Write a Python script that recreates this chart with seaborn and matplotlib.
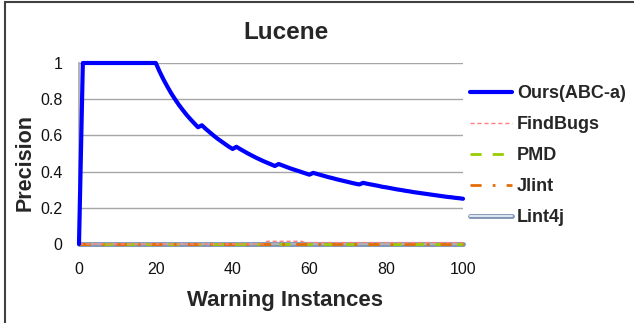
import numpy as np
import pandas as pd
import matplotlib
matplotlib.use("Agg")
import matplotlib.pyplot as plt
import matplotlib.patheffects as pe
from matplotlib.patches import Rectangle
import seaborn as sns

# ---- data ----
title = "Lucene"
x_label = "Warning Instances"
y_label = "Precision"
x_ticks = [0, 20, 40, 60, 80, 100]
y_ticks = [0, 0.2, 0.4, 0.6, 0.8, 1.0]
y_tick_labels = ["0", "0.2", "0.4", "0.6", "0.8", "1"]

instances = list(range(0, 101))
ours = [0.0] + [1.0] * 20 + [
    0.952, 0.909, 0.870, 0.833, 0.800, 0.769, 0.741, 0.714, 0.690, 0.667, 0.645,
    0.656, 0.636, 0.618, 0.600, 0.583, 0.568, 0.553, 0.538, 0.525,
    0.537, 0.524, 0.512, 0.500, 0.489, 0.478, 0.468, 0.458, 0.449, 0.440, 0.431,
    0.442, 0.434, 0.426, 0.418, 0.411, 0.404, 0.397, 0.390, 0.383,
    0.393, 0.387, 0.381, 0.375, 0.369, 0.364, 0.358, 0.353, 0.348, 0.343, 0.338, 0.333, 0.329,
    0.338, 0.333, 0.329, 0.325, 0.321, 0.316, 0.313, 0.309, 0.305, 0.301, 0.298, 0.294,
    0.291, 0.287, 0.284, 0.281, 0.278, 0.275, 0.272, 0.269, 0.266, 0.263, 0.260, 0.258,
    0.255, 0.253, 0.250]
findbugs = [0.0] * 49 + [0.015] * 10 + [0.008] * 42
pmd = [0.0] * 101
jlint = [0.0] * 101
lint4j = [0.0] * 101

series_names = ["Ours(ABC-a)", "FindBugs", "PMD", "Jlint", "Lint4j"]
series_values = [ours, findbugs, pmd, jlint, lint4j]

# ---- styling ----
sns.set_style("white")
plt.rcParams["font.family"] = ["Liberation Sans", "DejaVu Sans"]

fig = plt.figure(figsize=(6.34, 3.23), dpi=100)
ax = fig.add_axes([79 / 634, 1 - 244 / 323, (463 - 79) / 634, (244 - 63) / 323])

styles = {
    "Ours(ABC-a)": dict(color="#0000ff", lw=3.0, ls="-"),
    "FindBugs": dict(color="#ff8080", lw=1.0, ls=(0, (3, 2))),
    "PMD": dict(color="#99cc00", lw=2.0, ls=(0, (4, 4))),
    "Jlint": dict(color="#e36c09", lw=2.0, ls=(0, (4, 4, 1, 4))),
    "Lint4j": dict(color="#dce6f2", lw=1.5, ls="-"),
}
order_z = {"Ours(ABC-a)": 6, "FindBugs": 5, "PMD": 3, "Jlint": 4, "Lint4j": 2}

for name, vals in zip(series_names, series_values):
    df = pd.DataFrame({"x": instances, "y": vals})
    st = styles[name]
    sns.lineplot(data=df, x="x", y="y", ax=ax, color=st["color"], lw=st["lw"],
                 linestyle=st["ls"], label=name, zorder=order_z[name])

for line in ax.get_lines():
    line.set_clip_on(False)
    if line.get_label() == "Lint4j":
        line.set_path_effects([pe.Stroke(linewidth=3.5, foreground="#7f93b3"), pe.Normal()])
    if line.get_label() == "Ours(ABC-a)":
        line.set_solid_joinstyle("round")

ax.set_xlim(0, 100)
ax.set_ylim(0, 1)
ax.set_xticks(x_ticks)
ax.set_yticks(y_ticks)
ax.set_yticklabels(y_tick_labels)
ax.yaxis.grid(True, color="#a6a6a6", lw=1)
ax.set_axisbelow(True)
for s in ["top", "right"]:
    ax.spines[s].set_visible(False)
for s in ["left", "bottom"]:
    ax.spines[s].set_color("#a6a6a6")
    ax.spines[s].set_linewidth(1.2)
ax.tick_params(axis="x", length=3, direction="in", color="#a6a6a6", pad=13,
               labelsize=11.5, labelcolor="#111111")
ax.tick_params(axis="y", length=3, direction="out", color="#a6a6a6", pad=9,
               labelsize=11.5, labelcolor="#111111")

ax.set_title(title, fontsize=17.5, fontweight="bold", pad=17, x=0.54)
ax.set_xlabel(x_label, fontsize=16, fontweight="bold")
ax.xaxis.set_label_coords(0.536, -0.255)
ax.set_ylabel(y_label, fontsize=15.5, fontweight="bold")
ax.yaxis.set_label_coords(-0.113, 0.45)

leg = ax.legend(loc="center left", bbox_to_anchor=(470 / 634, 1 - 155.5 / 323),
                bbox_transform=fig.transFigure, frameon=False,
                prop=dict(weight="bold", size=13), handlelength=2.3,
                handletextpad=0.3, labelspacing=0.78, borderpad=0, borderaxespad=0)

fig.add_artist(Rectangle((4.5 / 634, -0.05), 1.2, 1.05 - 1.5 / 323,
                         transform=fig.transFigure, fill=False,
                         edgecolor="#404040", lw=1.5))

fig.savefig("out.png", dpi=100)
